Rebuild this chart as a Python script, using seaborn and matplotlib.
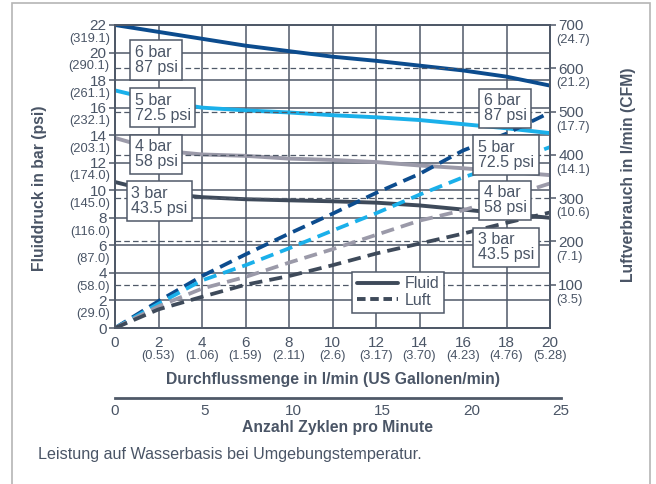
import matplotlib
matplotlib.use('Agg')
import matplotlib.pyplot as plt
from matplotlib.lines import Line2D
from matplotlib.patches import Rectangle
import seaborn as sns
import pandas as pd

# data
flow = [0, 2, 4, 6, 8, 10, 12, 14, 16, 18, 20]
flow_gal = ['', '(0.53)', '(1.06)', '(1.59)', '(2.11)', '(2.6)', '(3.17)', '(3.70)', '(4.23)', '(4.76)', '(5.28)']
fluid_6bar = [22.0, 21.5, 21.0, 20.5, 20.1, 19.7, 19.4, 19.05, 18.7, 18.25, 17.6]
fluid_5bar = [17.25, 16.5, 16.0, 15.8, 15.65, 15.45, 15.3, 15.1, 14.8, 14.5, 14.15]
fluid_4bar = [13.8, 12.9, 12.6, 12.5, 12.3, 12.2, 12.05, 11.8, 11.6, 11.35, 11.1]
fluid_3bar = [10.6, 9.8, 9.5, 9.35, 9.27, 9.2, 9.1, 8.9, 8.6, 8.3, 8.0]
air_6bar = [0, 62, 120, 170, 218, 264, 312, 356, 410, 449, 498]
air_5bar = [0, 56, 110, 145, 184, 225, 265, 308, 348, 380, 418]
air_4bar = [0, 50, 91, 118, 151, 182, 215, 248, 272, 302, 334]
air_3bar = [0, 43, 72, 100, 120, 145, 172, 195, 218, 243, 267]
pressures = ['6 bar', '5 bar', '4 bar', '3 bar']
psi_labels = ['87 psi', '72.5 psi', '58 psi', '43.5 psi']
colors = ['#0c4c8e', '#1ab0ea', '#9b9aa9', '#3e4a5a']

bar_ticks = [0, 2, 4, 6, 8, 10, 12, 14, 16, 18, 20, 22]
bar_psi = ['', '(29.0)', '(58.0)', '(87.0)', '(116.0)', '(145.0)', '(174.0)', '(203.1)',
           '(232.1)', '(261.1)', '(290.1)', '(319.1)']
air_ticks = [100, 200, 300, 400, 500, 600, 700]
air_cfm = ['(3.5)', '(7.1)', '(10.6)', '(14.1)', '(17.7)', '(21.2)', '(24.7)']
cycles = [0, 5, 10, 15, 20, 25]

# label box anchors (x, y in l/min, bar)
left_box_pos = [(0.9, 19.45), (0.9, 16.0), (0.9, 12.6), (0.75, 9.2)]
right_box_pos = [(16.95, 15.95), (16.7, 12.55), (16.95, 9.27), (16.7, 5.85)]

sns.set_style('white')
plt.rcParams['font.family'] = ['Liberation Sans', 'DejaVu Sans']
txt = '#4a5566'
grid = '#4f5968'

fluid_df = pd.DataFrame({
    'flow': flow * 4,
    'bar': fluid_6bar + fluid_5bar + fluid_4bar + fluid_3bar,
    'p': [p for p in pressures for _ in flow],
})
air_df = pd.DataFrame({
    'flow': flow * 4,
    'lmin': air_6bar + air_5bar + air_4bar + air_3bar,
    'p': [p for p in pressures for _ in flow],
})
pal = dict(zip(pressures, colors))

fig = plt.figure(figsize=(6.56, 4.84), dpi=100)
fig.patches.append(Rectangle((12 / 656, -0.01), 638 / 656, 1 - 3 / 484 + 0.01,
                             transform=fig.transFigure, fill=False, ec='#b5b5b5', lw=1.2))

ax = fig.add_axes([115 / 656, 1 - 328 / 484, 435 / 656, 303 / 484])
ax.set_xlim(0, 20)
ax.set_ylim(0, 22)
ax.set_xticks(flow)
ax.set_yticks(bar_ticks)
ax.grid(True, color=grid, lw=1.1)
ax.set_axisbelow(True)
sns.lineplot(data=fluid_df, x='flow', y='bar', hue='p', palette=pal, lw=2.8,
             legend=False, ax=ax, sort=False)

ax2 = ax.twinx()
ax2.set_ylim(0, 700)
ax2.set_yticks(air_ticks)
for v in air_ticks[:-1]:
    ax2.axhline(v, color=grid, lw=0.9, ls=(0, (4.5, 2.5)), zorder=1)
sns.lineplot(data=air_df, x='flow', y='lmin', hue='p', palette=pal, lw=2.7,
             linestyle=(0, (3.5, 1.9)), legend=False, ax=ax2, sort=False)

for a in (ax, ax2):
    for s in a.spines.values():
        s.set_color(grid)
        s.set_linewidth(1.3)
    a.tick_params(colors=grid, labelcolor=txt, length=4, width=1.1, labelsize=11, pad=2)

ax.set_xlabel('')
ax.set_ylabel('')
ax2.set_ylabel('')
for x, g in zip(flow, flow_gal):
    ax.text(x, -0.073, g, transform=ax.get_xaxis_transform(), ha='center', va='top',
            fontsize=9.3, color=txt)
for y, p in zip(bar_ticks, bar_psi):
    ax.text(-0.012, y - 1.0, p, transform=ax.get_yaxis_transform(), ha='right', va='center',
            fontsize=9.3, color=txt)
for y, c in zip(air_ticks, air_cfm):
    ax2.text(1.014, y - 35, c, transform=ax2.get_yaxis_transform(), ha='left', va='center',
             fontsize=9.3, color=txt)

ax.text(0.5, -0.145, 'Durchflussmenge in l/min (US Gallonen/min)', transform=ax.transAxes,
        ha='center', va='top', fontsize=11.3, fontweight='bold', color=txt)
fig.text(40 / 656, 1 - 188 / 484, 'Fluiddruck in bar (psi)', rotation=90, ha='center',
         va='center', fontsize=11.3, fontweight='bold', color=txt)
fig.text(628 / 656, 1 - 175 / 484, 'Luftverbrauch in l/min (CFM)', rotation=90, ha='center',
         va='center', fontsize=11.3, fontweight='bold', color=txt)

# boxed labels
for (x, y), p, s in zip(left_box_pos + right_box_pos, pressures * 2, psi_labels * 2):
    ax2.text(x, y, f'{p}\n{s}', transform=ax.transData, ha='left', va='center',
             fontsize=11.5, color=txt, linespacing=1.0, zorder=10,
             bbox=dict(boxstyle='square,pad=0.3', fc='white', ec=grid, lw=1.1))

handles = [Line2D([], [], color=colors[3], lw=2.8),
           Line2D([], [], color=colors[3], lw=2.8, ls=(0, (2.2, 1.2)))]
leg = ax2.legend(handles, ['Fluid', 'Luft'], loc='lower left', bbox_to_anchor=(0.545, 0.05),
                 borderaxespad=0, fancybox=False, framealpha=1, edgecolor=grid,
                 fontsize=11.5, handlelength=2.6, handletextpad=0.4, labelspacing=0.1,
                 borderpad=0.3, labelcolor=txt)
leg.get_frame().set_linewidth(1.1)
leg.set_zorder(11)

# cycles axis
ax3 = fig.add_axes([115 / 656, 1 - 398 / 484, 446 / 656, 0.0001])
ax3.set_xlim(0, 25)
ax3.set_xticks(cycles)
ax3.set_yticks([])
for k in ('left', 'right', 'top'):
    ax3.spines[k].set_visible(False)
ax3.spines['bottom'].set_color(grid)
ax3.spines['bottom'].set_linewidth(2)
ax3.tick_params(axis='x', direction='in', length=5, width=1.1, colors=grid, labelcolor=txt,
                labelsize=11, pad=4)
ax3.set_xlabel('Anzahl Zyklen pro Minute', fontsize=11.3, fontweight='bold', color=txt, labelpad=2)

fig.text(38 / 656, 1 - 455 / 484, 'Leistung auf Wasserbasis bei Umgebungstemperatur.',
         ha='left', va='center', fontsize=11.6, color=txt)

fig.savefig('out.png', dpi=100)
